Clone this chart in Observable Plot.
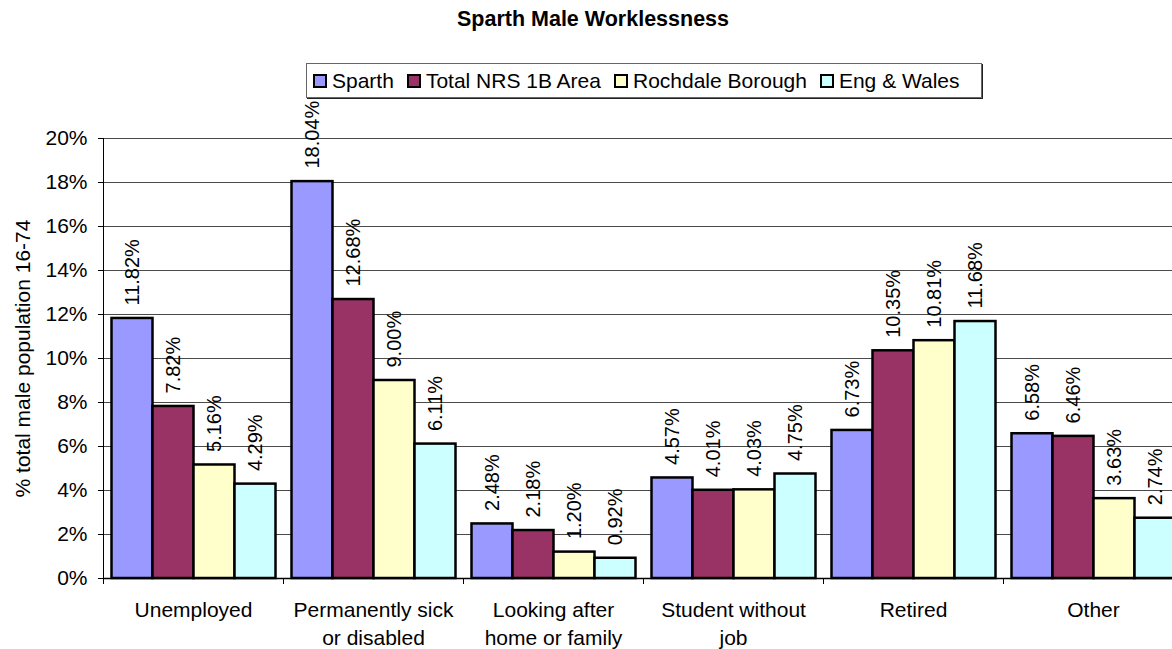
<!DOCTYPE html>
<html>
<head>
<meta charset="utf-8">
<script src="https://cdn.jsdelivr.net/npm/d3@7"></script>
<script src="https://cdn.jsdelivr.net/npm/@observablehq/plot@0.6"></script>
<style>
  body { margin: 0; background: #fff; font-family: "Liberation Sans", Arial, sans-serif; }
  #wrap { position: relative; width: 1172px; height: 649px; overflow: hidden; }
  #head { position: relative; height: 98px; }
  #title { position: absolute; left: 0; width: 1186px; top: 9px; text-align: center; font-weight: bold; font-size: 21.5px; line-height: 21.5px; color: #000; }
  #legend { position: absolute; left: 306px; top: 63px; width: 676px; height: 35px; box-sizing: border-box;
            border: 1px solid #666; box-shadow: 1px 1px 0 #222; padding: 6px 0 0 6px;
            font-size: 21px; line-height: 21px; white-space: nowrap; color: #000; }
  .item { display: inline-block; margin-right: 13px; }
  .sw { display: inline-block; width: 14px; height: 14px; box-sizing: border-box; border: 2px solid #000; margin-right: 5px; vertical-align: baseline; }
  #chart svg { display: block; }
</style>
</head>
<body>
<div id="wrap">
  <div id="head">
    <div id="title"></div>
    <div id="legend"></div>
  </div>
  <div id="chart"></div>
</div>
<script>
const chartTitle = "Sparth Male Worklessness";
const yLabel = "% total male population 16-74";
const categories = ["Unemployed", "Permanently sick\nor disabled", "Looking after\nhome or family", "Student without\njob", "Retired", "Other"];
const seriesNames = ["Sparth", "Total NRS 1B Area", "Rochdale Borough", "Eng & Wales"];
const seriesColors = ["#9999FF", "#993366", "#FFFFCC", "#CCFFFF"];
const sparth   = [11.82, 18.04, 2.48, 4.57, 6.73, 6.58];
const totalNRS = [7.82, 12.68, 2.18, 4.01, 10.35, 6.46];
const rochdale = [5.16, 9.00, 1.20, 4.03, 10.81, 3.63];
const engWales = [4.29, 6.11, 0.92, 4.75, 11.68, 2.74];
const yTicks = [0, 2, 4, 6, 8, 10, 12, 14, 16, 18, 20];

const seriesValues = [sparth, totalNRS, rochdale, engWales];
const data = [];
categories.forEach((c, i) => {
  seriesNames.forEach((s, j) => data.push({category: c, series: s, value: seriesValues[j][i]}));
});

document.getElementById("title").textContent = chartTitle;
const legend = document.getElementById("legend");
seriesNames.forEach((s, j) => {
  const item = document.createElement("span");
  item.className = "item";
  const sw = document.createElement("span");
  sw.className = "sw";
  sw.style.background = seriesColors[j];
  item.appendChild(sw);
  item.appendChild(document.createTextNode(s));
  legend.appendChild(item);
});

const font = "'Liberation Sans', Arial, sans-serif";
const chart = Plot.plot({
  width: 1172,
  height: 551,
  marginTop: 40,
  marginBottom: 71,
  marginLeft: 102.5,
  marginRight: -10.5,
  style: {fontFamily: font, fontSize: "21px", background: "transparent", color: "#000"},
  fx: {domain: categories, padding: 0, label: null},
  x: {domain: seriesNames, paddingInner: 0, paddingOuter: 0.195, axis: null},
  y: {domain: [0, 20], label: null},
  color: {domain: seriesNames, range: seriesColors},
  marks: [
    Plot.gridY(yTicks, {stroke: "#4a4a4a", strokeOpacity: 1, strokeWidth: 1}),
    Plot.barY(data, {fx: "category", x: "series", y: "value", fill: "series", stroke: "#000", strokeWidth: 2.5}),
    Plot.ruleY([0], {stroke: "#000", strokeWidth: 1.5}),
    Plot.text(data, {fx: "category", x: "series", y: "value", text: d => d.value.toFixed(2) + "%",
      rotate: -90, textAnchor: "start", dy: -13, fontSize: 20, fill: "#000"}),
    Plot.axisY(yTicks, {tickFormat: d => d + "%", tickSize: 5, tickPadding: 11, fontSize: 21,
      label: yLabel, labelAnchor: "center", labelOffset: 88, labelArrow: "none"}),
    Plot.axisFx({anchor: "bottom", tickSize: 0, tickPadding: 19, lineHeight: 1.33, fontSize: 21, label: null}),
    Plot.axisFx({anchor: "bottom", tickSize: 6, tickFormat: () => "", dx: -90, label: null}),
    Plot.frame({anchor: "left", facetAnchor: "left", stroke: "#000"})
  ]
});
document.getElementById("chart").appendChild(chart);
</script>
</body>
</html>
